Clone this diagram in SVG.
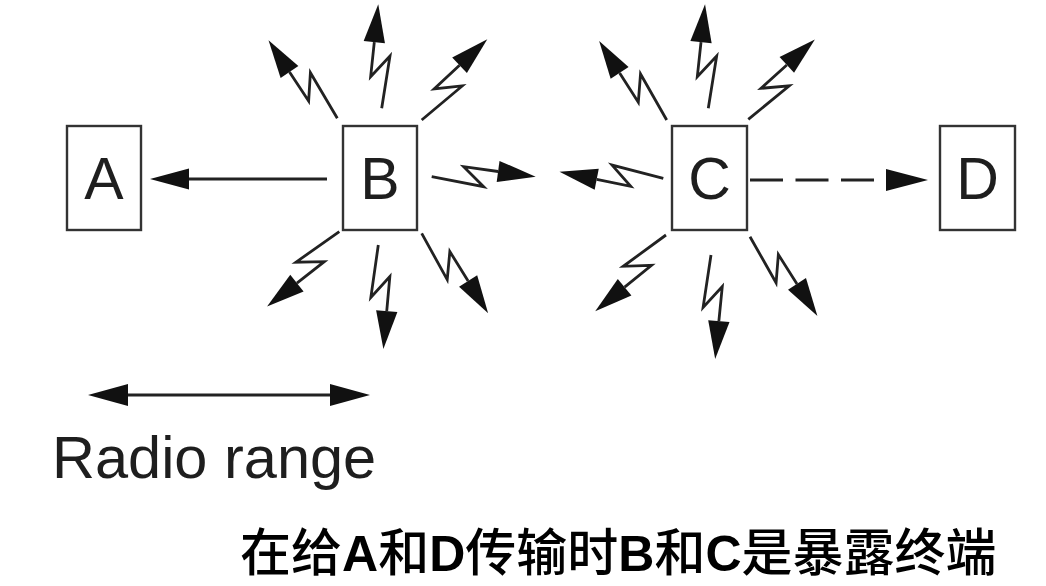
<svg xmlns="http://www.w3.org/2000/svg" xmlns:xlink="http://www.w3.org/1999/xlink" width="1046" height="586" viewBox="0 0 1046 586">
<style>
.box{fill:#fff;stroke:#333;stroke-width:2.4}
.lbl{font-family:"Liberation Sans",Arial,sans-serif;font-size:59px;fill:#1e1e1e;text-anchor:middle}
.ln{fill:none;stroke:#222;stroke-width:2.8}
.head{fill:#111}
.cap{font-family:"Noto Sans CJK SC","Noto Sans",sans-serif;font-size:51px;font-weight:500;fill:#000}
.lat{font-family:"Liberation Sans",Arial,sans-serif;font-weight:bold;font-size:50px}
</style>
<defs>
<g id="bolt">
<polyline class="ln" points="0,0 52,10 32,-10 66.4,-5.2"/>
<polygon class="head" points="104,0 65,5.4 67.8,-15.8"/>
</g>
</defs>
<rect width="1046" height="586" fill="#fff"/>
<g id="connectors">
<g id="b-to-a">
<line class="ln" x1="327" y1="179" x2="185" y2="179"/>
<polygon class="head" points="150,179 189,168.5 189,189.5"/>
</g>
<g id="c-to-d">
<line class="ln" x1="750" y1="180" x2="888" y2="180" stroke-dasharray="33 12.5"/>
<polygon class="head" points="928,180 886,169 886,191"/>
</g>
<g id="radio-range-arrow">
<line class="ln" x1="120" y1="395" x2="338" y2="395"/>
<polygon class="head" points="88,395 128,384 128,406"/>
<polygon class="head" points="370,395 330,384 330,406"/>
</g>
<g id="b-bolts">
<use xlink:href="#bolt" transform="translate(337.3,118.3) rotate(-131.4)"/>
<use xlink:href="#bolt" transform="translate(381.7,108.3) rotate(-91.9)"/>
<use xlink:href="#bolt" transform="translate(421.7,120) rotate(-50.9)"/>
<use xlink:href="#bolt" transform="translate(431.7,176.7) rotate(0)"/>
<use xlink:href="#bolt" transform="translate(421.7,233.3) rotate(50.3)"/>
<use xlink:href="#bolt" transform="translate(378.3,245) rotate(87.2)"/>
<use xlink:href="#bolt" transform="translate(339.3,231.7) rotate(134)"/>
</g>
<g id="c-bolts">
<use xlink:href="#bolt" transform="translate(666.7,120) rotate(-130.5)"/>
<use xlink:href="#bolt" transform="translate(708.3,108.3) rotate(-91.8)"/>
<use xlink:href="#bolt" transform="translate(748.3,119.3) rotate(-50.2)"/>
<use xlink:href="#bolt" transform="translate(663.3,178.3) rotate(183.6)"/>
<use xlink:href="#bolt" transform="translate(750,236.7) rotate(49.6)"/>
<use xlink:href="#bolt" transform="translate(711,255) rotate(87.7)"/>
<use xlink:href="#bolt" transform="translate(666,235) rotate(132.9)"/>
</g>
</g>
<g id="node-a">
<rect class="box" x="67" y="126" width="74" height="104"/>
<text class="lbl" x="104" y="199">A</text>
</g>
<g id="node-b">
<rect class="box" x="343" y="126" width="74" height="104"/>
<text class="lbl" x="380" y="199">B</text>
</g>
<g id="node-c">
<rect class="box" x="672" y="126" width="75" height="104"/>
<text class="lbl" x="709.5" y="199">C</text>
</g>
<g id="node-d">
<rect class="box" x="940" y="126" width="75" height="104"/>
<text class="lbl" x="977.5" y="199">D</text>
</g>
<g id="legend">
<text x="52" y="478" font-family="'Liberation Sans',Arial,sans-serif" font-size="59.5" fill="#1e1e1e">Radio range</text>
</g>
<g id="caption">
<text class="cap" x="240" y="571">在给<tspan class="lat">A</tspan>和<tspan class="lat">D</tspan>传输时<tspan class="lat">B</tspan>和<tspan class="lat">C</tspan>是暴露终端</text>
</g>
</svg>
